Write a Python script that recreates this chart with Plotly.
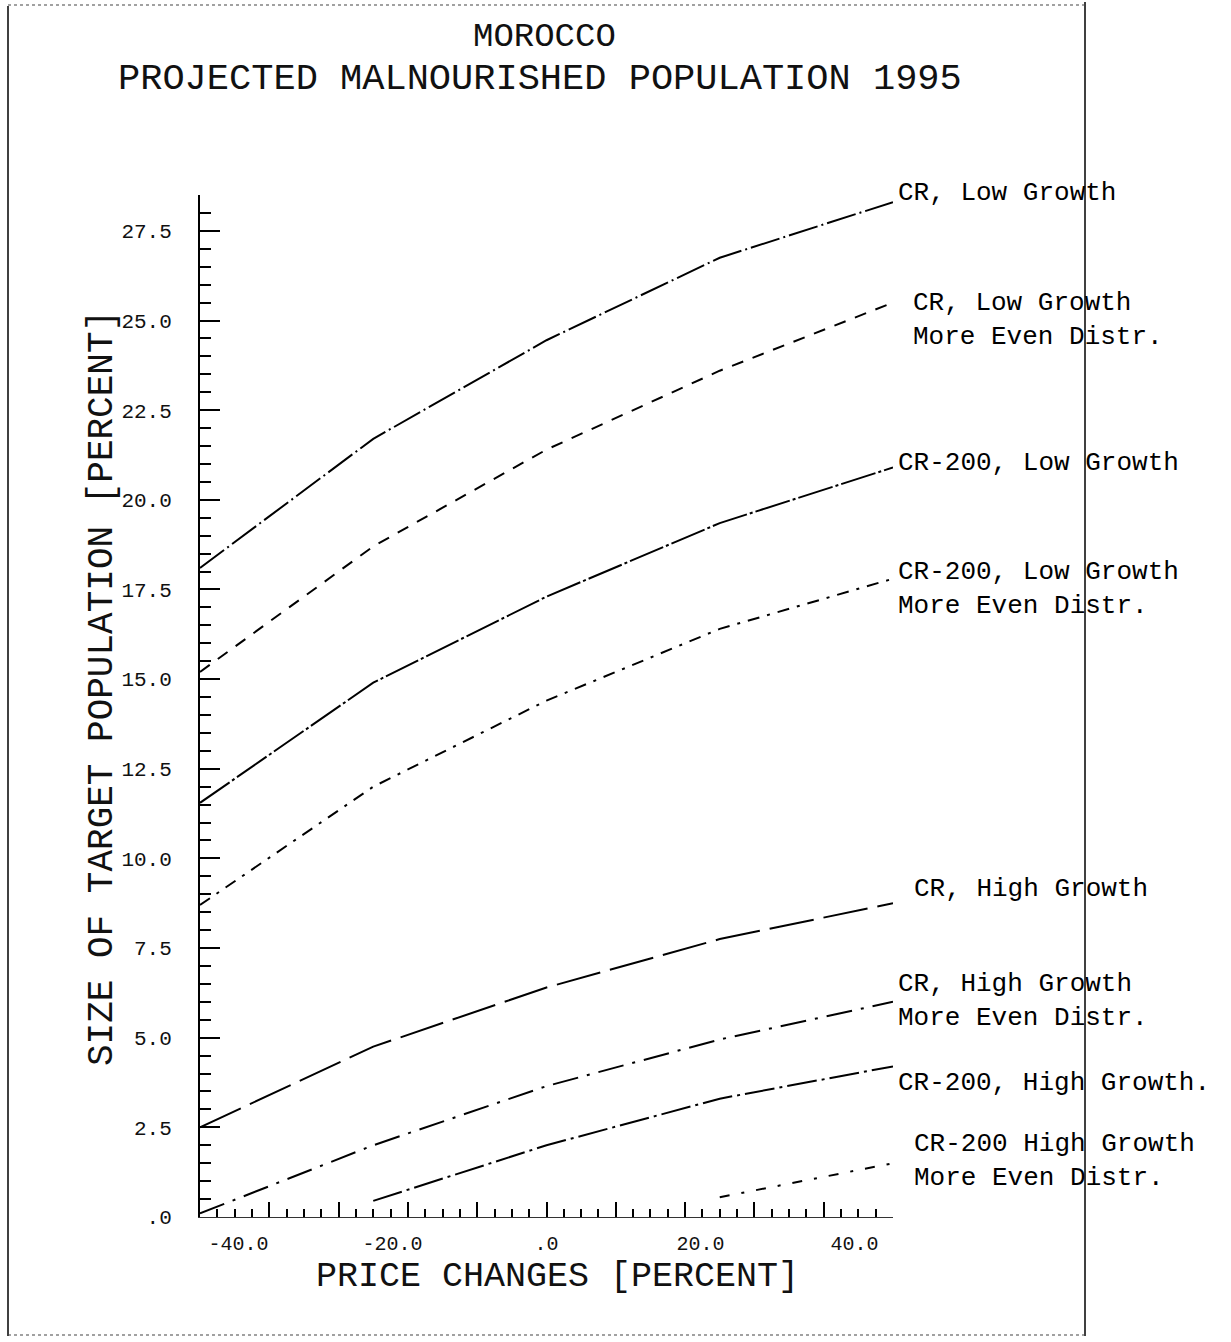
import plotly.graph_objects as go

# ---------------- data ----------------
price_change = [-45, -22.5, 0, 22.5, 45]
cr_low = [18.1, 21.7, 24.45, 26.75, 28.3]
cr_low_even = [15.2, 18.7, 21.4, 23.6, 25.5]
cr200_low = [11.55, 14.9, 17.3, 19.35, 20.9]
cr200_low_even = [8.7, 12.0, 14.4, 16.4, 17.8]
cr_high = [2.5, 4.75, 6.4, 7.75, 8.75]
cr_high_even = [0.1, 2.0, 3.65, 4.95, 6.0]
cr200_high = [None, 0.45, 2.0, 3.3, 4.2]
cr200_high_even = [None, None, None, 0.55, 1.5]

series_names = [
    "CR, Low Growth",
    "CR, Low Growth<br>More Even Distr.",
    "CR-200, Low Growth",
    "CR-200, Low Growth<br>More Even Distr.",
    "CR, High Growth",
    "CR, High Growth<br>More Even Distr.",
    "CR-200, High Growth.",
    "CR-200 High Growth<br>More Even Distr.",
]
series_values = [cr_low, cr_low_even, cr200_low, cr200_low_even,
                 cr_high, cr_high_even, cr200_high, cr200_high_even]

y_tick_vals = [0, 2.5, 5.0, 7.5, 10.0, 12.5, 15.0, 17.5, 20.0, 22.5, 25.0, 27.5]
y_tick_text = [".0", "2.5", "5.0", "7.5", "10.0", "12.5", "15.0", "17.5",
               "20.0", "22.5", "25.0", "27.5"]
x_tick_vals = [-40, -20, 0, 20, 40]
x_tick_text = ["-40.0", "-20.0", ".0", "20.0", "40.0"]

# ---------------- styles / layout ----------------
W, H = 1231, 1342
L, R, T, B = 200, 338, 195, 125
PW, PH = W - L - R, H - T - B

dashes = ["30px,4px,2px,4px", "12px,10px", "36px,3px,3px,3px", "12px,8px,3px,8px",
          "45px,10px", "26px,9px,3px,9px", "30px,5px,3px,5px", "10px,12px,3px,12px"]

# label positions in pixels (left x, center y of block)
label_pos = [(896, 193), (911, 320), (896, 463), (896, 589),
             (912, 889), (896, 1001), (896, 1083), (912, 1161)]


def px(xp):
    return (xp - L) / PW


def py(yp):
    return (H - B - yp) / PH


PLOT_FONT = "Liberation Mono, DejaVu Sans Mono, monospace"
TYPE_FONT = "Courier New, Courier, Liberation Mono, monospace"

fig = go.Figure()
for name, vals, dsh in zip(series_names, series_values, dashes):
    fig.add_trace(go.Scatter(
        x=price_change, y=vals, mode="lines", name=name.replace("<br>", " "),
        line=dict(color="black", width=2, dash=dsh), connectgaps=False,
        showlegend=False, hoverinfo="skip"))

# dummy trace for label axis
fig.add_trace(go.Scatter(x=[], y=[], xaxis="x2", showlegend=False))

annotations = []
for name, (lx, ly) in zip(series_names, label_pos):
    annotations.append(dict(
        text=name, x=px(lx), y=py(ly), xref="paper", yref="paper",
        xanchor="left", yanchor="middle", align="left", showarrow=False,
        font=dict(family=TYPE_FONT, size=26, color="black")))

annotations += [
    dict(text="MOROCCO", x=px(544), y=py(37), xref="paper", yref="paper",
         xanchor="center", yanchor="middle", showarrow=False,
         font=dict(family=PLOT_FONT, size=34, color="#111")),
    dict(text="PROJECTED MALNOURISHED POPULATION 1995", x=px(540), y=py(79),
         xref="paper", yref="paper", xanchor="center", yanchor="middle",
         showarrow=False, font=dict(family=PLOT_FONT, size=37, color="#111")),
    dict(text="SIZE OF TARGET POPULATION [PERCENT]", x=px(102), y=py(688),
         xref="paper", yref="paper", xanchor="center", yanchor="middle",
         showarrow=False, textangle=-90,
         font=dict(family=PLOT_FONT, size=36, color="#111")),
    dict(text="PRICE CHANGES [PERCENT]", x=px(557), y=py(1277),
         xref="paper", yref="paper", xanchor="center", yanchor="middle",
         showarrow=False, font=dict(family=PLOT_FONT, size=35, color="#111")),
]

shapes = [
    dict(type="line", xref="paper", yref="paper", x0=px(8), x1=px(8),
         y0=py(6), y1=py(1336), line=dict(color="black", width=1.5)),
    dict(type="line", xref="paper", yref="paper", x0=px(1085), x1=px(1085),
         y0=py(2), y1=py(1336), line=dict(color="black", width=1.5)),
    dict(type="line", xref="paper", yref="paper", x0=px(8), x1=px(1085),
         y0=py(5), y1=py(5), line=dict(color="#444", width=1.2, dash="dot")),
    dict(type="line", xref="paper", yref="paper", x0=px(8), x1=px(1085),
         y0=py(1335), y1=py(1335), line=dict(color="#444", width=1.2, dash="dot")),
]

fig.update_layout(
    width=W, height=H, margin=dict(l=L, r=R, t=T, b=B),
    paper_bgcolor="white", plot_bgcolor="white",
    showlegend=False,
    xaxis=dict(range=[-45, 45], showgrid=False, zeroline=False,
               showline=True, linecolor="#333", linewidth=1,
               tickmode="linear", tick0=-45, dtick=9,
               ticks="inside", ticklen=15, tickwidth=1.5, tickcolor="black",
               showticklabels=False,
               minor=dict(tickmode="linear", tick0=-45, dtick=2.25,
                          ticks="inside", ticklen=8, tickwidth=1.5,
                          tickcolor="black", showgrid=False)),
    xaxis2=dict(range=[-45, 45], overlaying="x", anchor="y", side="bottom",
                showgrid=False, zeroline=False, showline=False,
                tickmode="array", tickvals=x_tick_vals, ticktext=x_tick_text,
                ticks="", ticklabelstandoff=12,
                tickfont=dict(family=PLOT_FONT, size=20, color="#111")),
    yaxis=dict(range=[0, 28.5], showgrid=False, zeroline=False,
               showline=True, linecolor="black", linewidth=2,
               tickmode="array", tickvals=y_tick_vals, ticktext=y_tick_text,
               ticks="inside", ticklen=20, tickwidth=2, tickcolor="black",
               ticklabelstandoff=22,
               tickfont=dict(family=PLOT_FONT, size=21, color="#111"),
               minor=dict(tickmode="linear", tick0=0, dtick=0.5,
                          ticks="inside", ticklen=11, tickwidth=2,
                          tickcolor="black", showgrid=False)),
    annotations=annotations,
    shapes=shapes,
)

fig.write_html("out.html")
